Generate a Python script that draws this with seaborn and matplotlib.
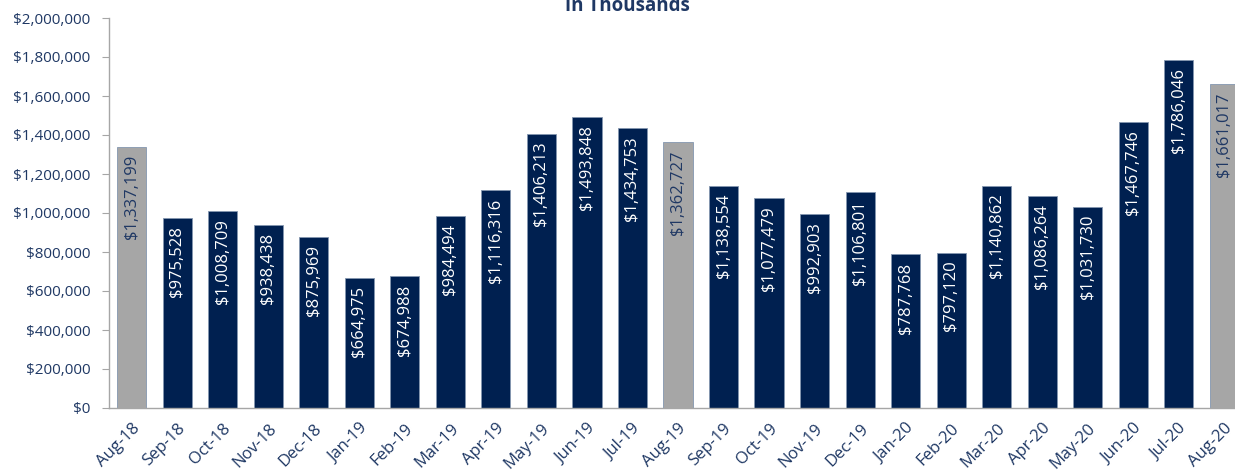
import pandas as pd
import seaborn as sns
import matplotlib.pyplot as plt
from matplotlib.ticker import FuncFormatter
from matplotlib.transforms import ScaledTranslation

# Monthly values (in thousands)
months = ["Aug-18", "Sep-18", "Oct-18", "Nov-18", "Dec-18", "Jan-19", "Feb-19",
          "Mar-19", "Apr-19", "May-19", "Jun-19", "Jul-19", "Aug-19", "Sep-19",
          "Oct-19", "Nov-19", "Dec-19", "Jan-20", "Feb-20", "Mar-20", "Apr-20",
          "May-20", "Jun-20", "Jul-20", "Aug-20"]
values = [1337199, 975528, 1008709, 938438, 875969, 664975, 674988,
          984494, 1116316, 1406213, 1493848, 1434753, 1362727, 1138554,
          1077479, 992903, 1106801, 787768, 797120, 1140862, 1086264,
          1031730, 1467746, 1786046, 1661017]
highlight = ["Aug-18", "Aug-19", "Aug-20"]

navy = "#002050"
grey = "#A6A6A6"
text_navy = "#1F3864"

df = pd.DataFrame({"month": months, "value": values})
colors = [grey if m in highlight else navy for m in months]

sns.set_style("white")
plt.rcParams["font.family"] = ["Open Sans", "DejaVu Sans"]

fig = plt.figure(figsize=(12.35, 4.72), dpi=100)
ax = fig.add_axes([109 / 1235, 64 / 472, 1138 / 1235, 390 / 472])

sns.barplot(data=df, x="month", y="value", hue="month", palette=colors,
            legend=False, width=0.64, edgecolor="#8497B0", linewidth=0.6,
            saturation=1, ax=ax)

ax.set_ylim(0, 2000000)
ax.set_xlim(-0.5, len(months) - 0.5)
ax.set_yticks(range(0, 2000001, 200000))
ax.yaxis.set_major_formatter(FuncFormatter(lambda v, p: f"${v:,.0f}"))
ax.set_xticks(range(len(months)))
ax.set_xticklabels(months, rotation=45, ha="right", rotation_mode="anchor")
ax.set_xlabel("")
ax.set_ylabel("")

# tick marks on category boundaries
ax.set_xticks([i - 0.5 for i in range(len(months) + 1)], minor=True)
ax.tick_params(axis="x", which="major", length=0, labelsize=12,
               labelcolor=text_navy, pad=9)
ax.tick_params(axis="x", which="minor", length=5, color="#A6A6A6", direction="out")
ax.tick_params(axis="y", length=5, color="#A6A6A6", labelsize=11,
               labelcolor=text_navy, pad=8.5, left=True)
for lbl in ax.get_xticklabels():
    lbl.set_transform(lbl.get_transform() + ScaledTranslation(0, 0, fig.dpi_scale_trans))

for s in ["top", "right"]:
    ax.spines[s].set_visible(False)
for s in ["left", "bottom"]:
    ax.spines[s].set_color("#A6A6A6")
    ax.spines[s].set_linewidth(1)

# value labels inside bar tops
pad = 8 / 390 * 2000000
for i, (m, v) in enumerate(zip(months, values)):
    c = text_navy if m in highlight else "white"
    ax.text(i, v - pad, f"${v:,.0f}", rotation=90, ha="center", va="top",
            color=c, fontsize=12)

fig.text(627 / 1235, (472 - 11) / 472, "In Thousands", ha="center",
         va="baseline", fontsize=13.5, fontweight="bold", color=text_navy)

fig.savefig("out.png", dpi=100)
